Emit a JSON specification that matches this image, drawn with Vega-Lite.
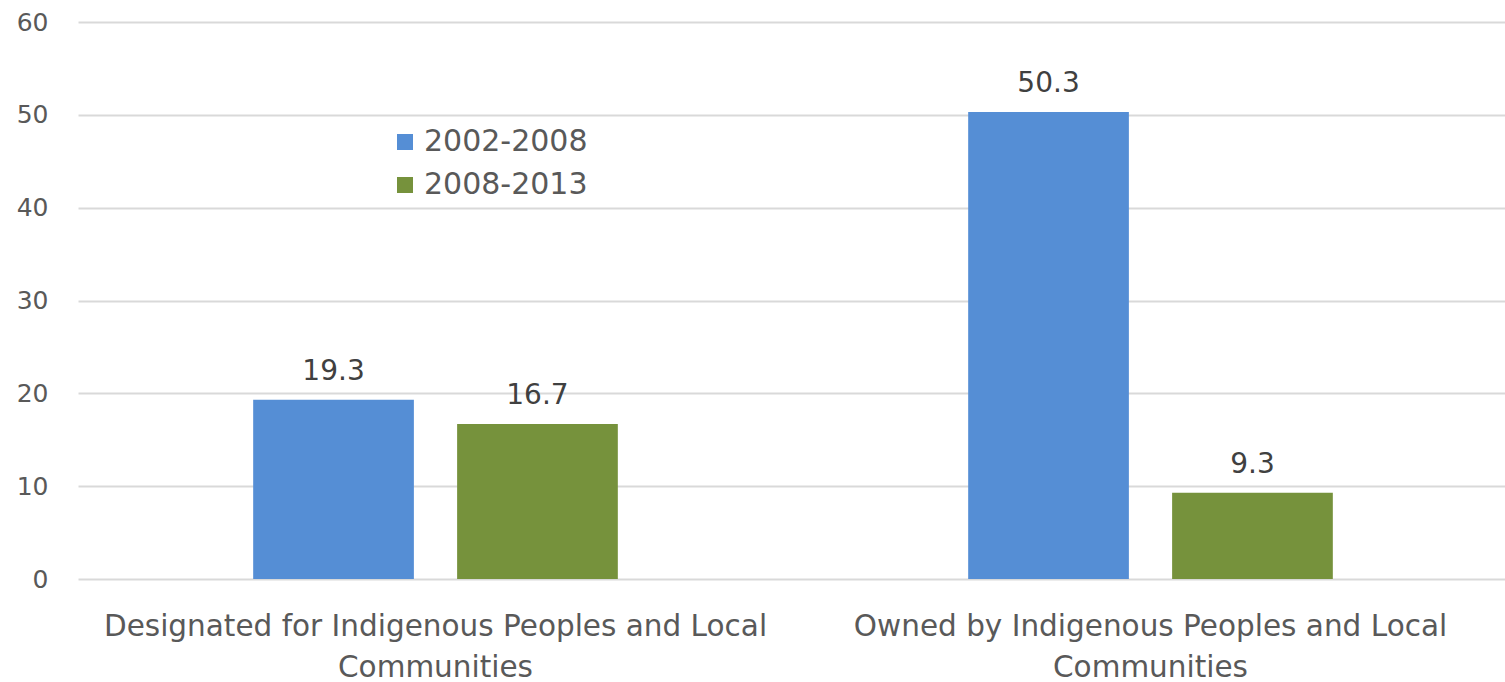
{
  "$schema": "https://vega.github.io/schema/vega-lite/v6.json",
  "width": 1430,
  "height": 557,
  "autosize": {"type": "none"},
  "padding": {"left": 78, "top": 22, "right": 0, "bottom": 103},
  "background": "white",
  "config": {"view": {"stroke": null}, "font": "DejaVu Sans"},
  "data": {
    "values": [
      {"category": "Designated for Indigenous Peoples and Local Communities", "period": "2002-2008", "value": 19.3},
      {"category": "Designated for Indigenous Peoples and Local Communities", "period": "2008-2013", "value": 16.7},
      {"category": "Owned by Indigenous Peoples and Local Communities", "period": "2002-2008", "value": 50.3},
      {"category": "Owned by Indigenous Peoples and Local Communities", "period": "2008-2013", "value": 9.3}
    ]
  },
  "encoding": {
    "x": {
      "field": "category",
      "type": "nominal",
      "sort": null,
      "scale": {"paddingInner": 0.49, "paddingOuter": 0.245},
      "axis": {
        "title": null,
        "labelAngle": 0,
        "domain": false,
        "ticks": false,
        "labelPadding": 33,
        "labelFontSize": 29.5,
        "labelColor": "#595959",
        "labelLineHeight": 41,
        "labelLimit": 0,
        "labelExpr": "datum.value == 'Designated for Indigenous Peoples and Local Communities' ? ['Designated for Indigenous Peoples and Local', 'Communities'] : ['Owned by Indigenous Peoples and Local', 'Communities']"
      }
    },
    "xOffset": {
      "field": "period",
      "type": "nominal",
      "scale": {"paddingInner": 0.212, "paddingOuter": 0}
    },
    "y": {
      "field": "value",
      "type": "quantitative",
      "scale": {"domain": [0, 60]},
      "axis": {
        "title": null,
        "values": [0, 10, 20, 30, 40, 50, 60],
        "domain": false,
        "ticks": false,
        "labelPadding": 30,
        "labelFontSize": 25,
        "labelColor": "#595959",
        "gridColor": "#d9d9d9",
        "gridWidth": 2
      }
    }
  },
  "layer": [
    {
      "mark": {"type": "bar"},
      "encoding": {
        "color": {
          "field": "period",
          "type": "nominal",
          "scale": {"domain": ["2002-2008", "2008-2013"], "range": ["#558ED5", "#76923C"]},
          "legend": {
            "orient": "none",
            "legendX": 312,
            "legendY": 105,
            "title": null,
            "symbolType": "square",
            "symbolSize": 256,
            "symbolStrokeWidth": 0,
            "labelFontSize": 30,
            "labelLimit": 0,
            "labelColor": "#595959",
            "rowPadding": 13,
            "labelOffset": 4
          }
        }
      }
    },
    {
      "mark": {"type": "text", "dy": -20, "baseline": "alphabetic", "fontSize": 28, "color": "#404040"},
      "encoding": {"text": {"field": "value", "type": "quantitative", "format": ".1f"}}
    }
  ]
}
